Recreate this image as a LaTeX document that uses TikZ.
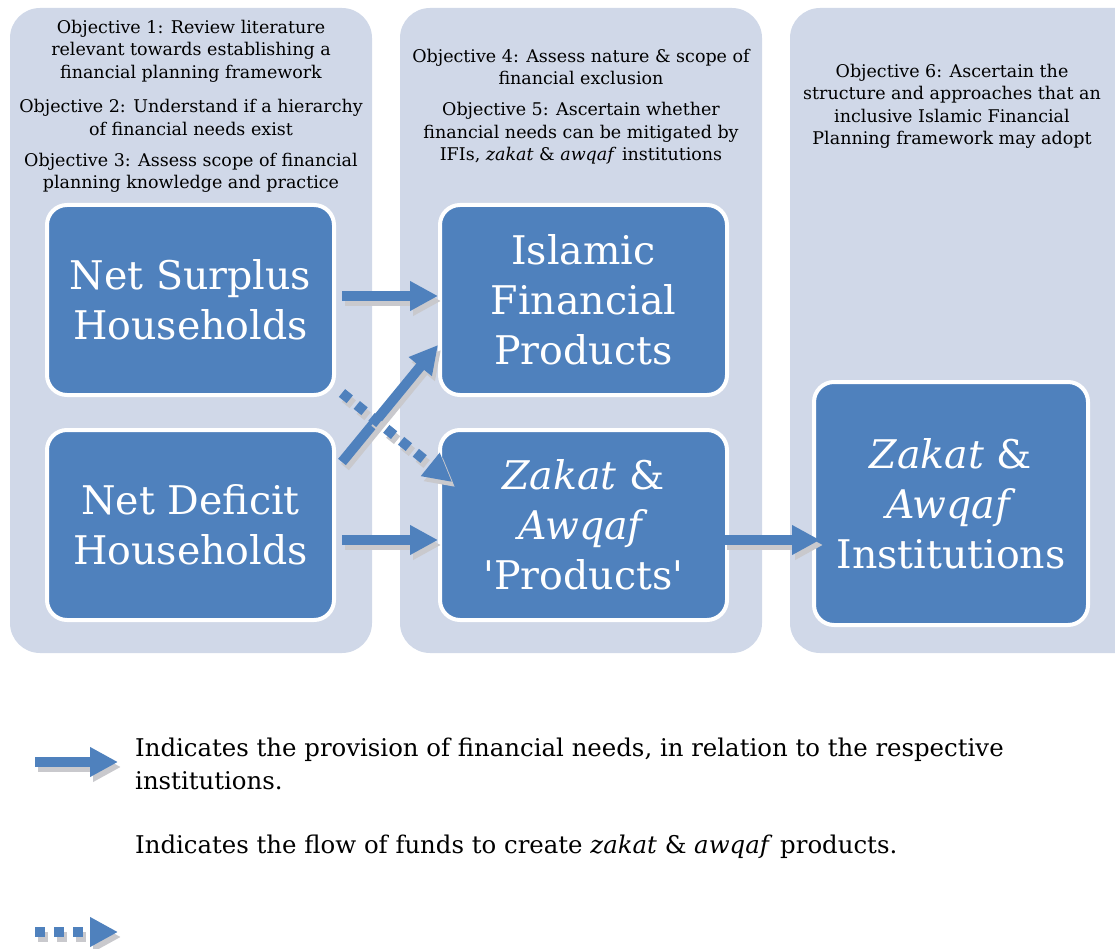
\documentclass[tikz,border=0pt]{standalone}
\usepackage{fontspec}
\setmainfont{DejaVu Serif}
\usepackage{xcolor}
\usepackage{tikz}
\usetikzlibrary{positioning, arrows.meta}

\definecolor{panelblue}{HTML}{D0D8E8}
\definecolor{boxblue}{HTML}{4F81BD}
\definecolor{shadowgray}{HTML}{C9C9CD}

% arrow with its grey drop shadow
\newcommand{\shadowed}[2]{%
  \draw[#1, draw=shadowgray, transform canvas={shift={(3pt,-5pt)}}] #2;
  \draw[#1] #2;}

\begin{document}
\begin{tikzpicture}[
            x=1pt, y=-1pt,
            panel/.style={rectangle, rounded corners=30pt, fill=panelblue, minimum width=362pt, minimum height=645pt},
            objtext/.style={align=center, inner sep=0pt, font=\fontsize{17.5}{22.5}\selectfont},
            bigbox/.style={rectangle, rounded corners=20pt, draw=white, line width=4pt, fill=boxblue, text=white, align=center, minimum width=287pt, minimum height=190pt, font=\fontsize{39.5}{50}\selectfont},
            keytext/.style={align=left, inner sep=0pt, font=\fontsize{24.4}{33}\selectfont},
            flow/.style={draw=boxblue, line width=10pt, -{Triangle[length=28pt, width=28pt]}},
            fundflow/.style={flow, dash pattern=on 10pt off 9pt}
        ]
        \useasboundingbox (0,0) rectangle (1115,949);

        % columns
        \node[panel] (leftpanel) at (191,330.5) {};
        \node[panel] (midpanel) at (581,330.5) {};
        \node[panel, minimum width=400pt] (rightpanel) at (990,330.5) {};
        \coordinate (righttop) at (952,8);

        \node[objtext, below=12pt of leftpanel.north] (obj1) {Objective 1: Review literature\\relevant towards establishing a\\financial planning framework};
        \node[objtext, below=17pt of obj1] (obj2) {Objective 2: Understand if a hierarchy\\of financial needs exist};
        \node[objtext, below=17pt of obj2] (obj3) {Objective 3: Assess scope of financial\\planning knowledge and practice};

        \node[objtext, below=41pt of midpanel.north] (obj4) {Objective 4: Assess nature \& scope of\\financial exclusion};
        \node[objtext, below=17pt of obj4] (obj5) {Objective 5: Ascertain whether\\financial needs can be mitigated by\\IFIs, \textit{zakat} \& \textit{awqaf} institutions};

        \node[objtext, below=56pt of righttop] (obj6) {Objective 6: Ascertain the\\structure and approaches that an\\inclusive Islamic Financial\\Planning framework may adopt};

        % boxes
        \node[bigbox] (surplus) at (190.5,300) {Net Surplus\\Households};
        \node[bigbox, below=31pt of surplus] (deficit) {Net Deficit\\Households};
        \node[bigbox, right=102pt of surplus] (ifp) {Islamic\\Financial\\Products};
        \node[bigbox, below=31pt of ifp] (zakatprod) {\textit{Zakat} \&\\\textit{Awqaf}\\\textquotesingle Products\textquotesingle};
        \node[bigbox, minimum width=274pt, minimum height=243pt] (instit) at (951,503.5) {\textit{Zakat} \&\\\textit{Awqaf}\\Institutions};

        % flows
        \shadowed{flow, shorten <=6pt}{([yshift=4pt]surplus.east) -- ([yshift=4pt]ifp.west)}
        \shadowed{flow}{([shift={(6pt,-34pt)}]deficit.north east) -- ([yshift=52pt]ifp.south west)}
        \shadowed{fundflow}{([shift={(6pt,4pt)}]surplus.south east) -- ([shift={(14pt,-54pt)}]zakatprod.north west)}
        \shadowed{flow, shorten <=6pt}{([yshift=-15pt]deficit.east) -- ([yshift=-15pt]zakatprod.west)}
        \shadowed{flow, shorten <=-5pt, shorten >=-8pt}{([yshift=-15pt]zakatprod.east) -- ([yshift=-15pt]zakatprod.east -| instit.west)}

        % legend
        \coordinate (keyA) at (35,762);
        \coordinate (keyB) at (118,762);
        \coordinate (keyC) at (35,932);
        \coordinate (keyD) at (118,932);
        \shadowed{flow}{(keyA) -- (keyB)}
        \shadowed{fundflow}{(keyC) -- (keyD)}
        \node[keytext, anchor=north west] (keytextA) at (135,738) {Indicates the provision of financial needs, in relation to the respective\\institutions.};
        \node[keytext, anchor=north west] (keytextB) at (135,835) {Indicates the flow of funds to create \textit{zakat} \& \textit{awqaf} products.};

    \end{tikzpicture}
\end{document}
